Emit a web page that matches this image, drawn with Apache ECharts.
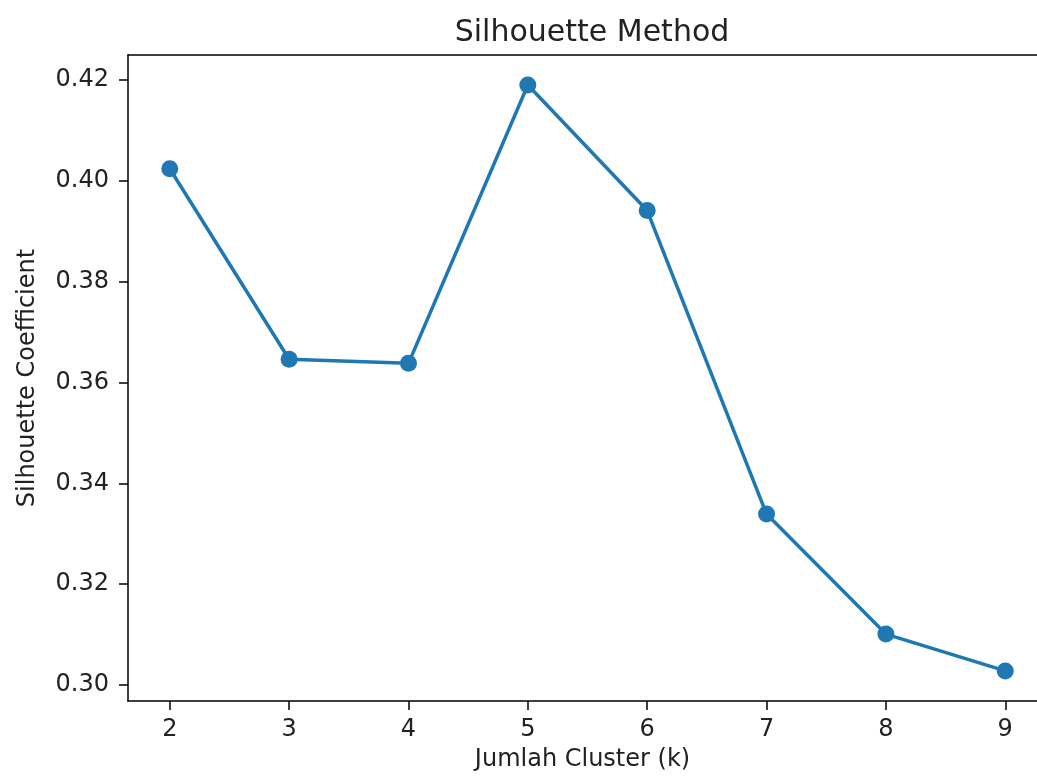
<!DOCTYPE html>
<html>
<head>
<meta charset="utf-8">
<script src="https://cdn.jsdelivr.net/npm/echarts@6/dist/echarts.min.js"></script>
<style>
  html, body { margin: 0; padding: 0; background: #fff; }
  #chart { width: 1037px; height: 777px; }
</style>
</head>
<body>
<div id="chart"></div>
<script>
// data
const kValues = [2, 3, 4, 5, 6, 7, 8, 9];
const silhouette = [0.4024, 0.3646, 0.3638, 0.4190, 0.3941, 0.3339, 0.3101, 0.3028];
const xTicks = [2, 3, 4, 5, 6, 7, 8, 9];
const yTicks = [0.30, 0.32, 0.34, 0.36, 0.38, 0.40, 0.42];

const font = 'DejaVu Sans';
const textColor = '#222';
const spine = { color: '#000', width: 1.5 };

const myChart = echarts.init(document.getElementById('chart'));
const option = {
  animation: false,
  title: {
    text: 'Silhouette Method',
    left: 587,
    top: 13,
    textAlign: 'center',
    textStyle: { fontFamily: font, fontSize: 30, fontWeight: 'normal', color: textColor },
  },
  grid: {
    left: 128,
    right: 0,
    top: 55,
    bottom: 75,
  },
  xAxis: [
    {
      type: 'value',
      min: 1.65,
      max: 9.266, // the picture is cut off on the right (full range ends at 9.35)
      name: 'Jumlah Cluster (k)',
      nameLocation: 'middle',
      nameGap: 47,
      nameTextStyle: { fontFamily: font, fontSize: 24, color: textColor },
      axisLine: { lineStyle: spine },
      axisTick: { show: true, length: 9, customValues: xTicks, lineStyle: spine },
      axisLabel: {
        customValues: xTicks,
        margin: 17,
        fontFamily: font,
        fontSize: 24,
        color: textColor,
      },
      splitLine: { show: false },
    },
    {
      // top spine only
      type: 'value',
      position: 'top',
      min: 1.65,
      max: 9.266,
      axisLine: { show: true, lineStyle: spine },
      axisTick: { show: false },
      axisLabel: { show: false },
      splitLine: { show: false },
    },
  ],
  yAxis: {
    type: 'value',
    min: 0.29683,
    max: 0.42495,
    name: 'Silhouette Coefficient',
    nameLocation: 'middle',
    nameGap: 88,
    nameTextStyle: { fontFamily: font, fontSize: 24, color: textColor },
    axisLine: { show: true, lineStyle: spine },
    axisTick: { show: true, length: 9, customValues: yTicks, lineStyle: spine },
    axisLabel: {
      customValues: yTicks,
      margin: 19,
      fontFamily: font,
      fontSize: 24,
      color: textColor,
      formatter(value) {
        return value.toFixed(2);
      },
    },
    splitLine: { show: false },
  },
  series: [
    {
      type: 'line',
      data: kValues.map((k, i) => [k, silhouette[i]]),
      symbol: 'circle',
      symbolSize: 17,
      itemStyle: { color: '#1f77b4' },
      lineStyle: { color: '#1f77b4', width: 3.5 },
    },
  ],
};
myChart.setOption(option);
</script>
</body>
</html>
